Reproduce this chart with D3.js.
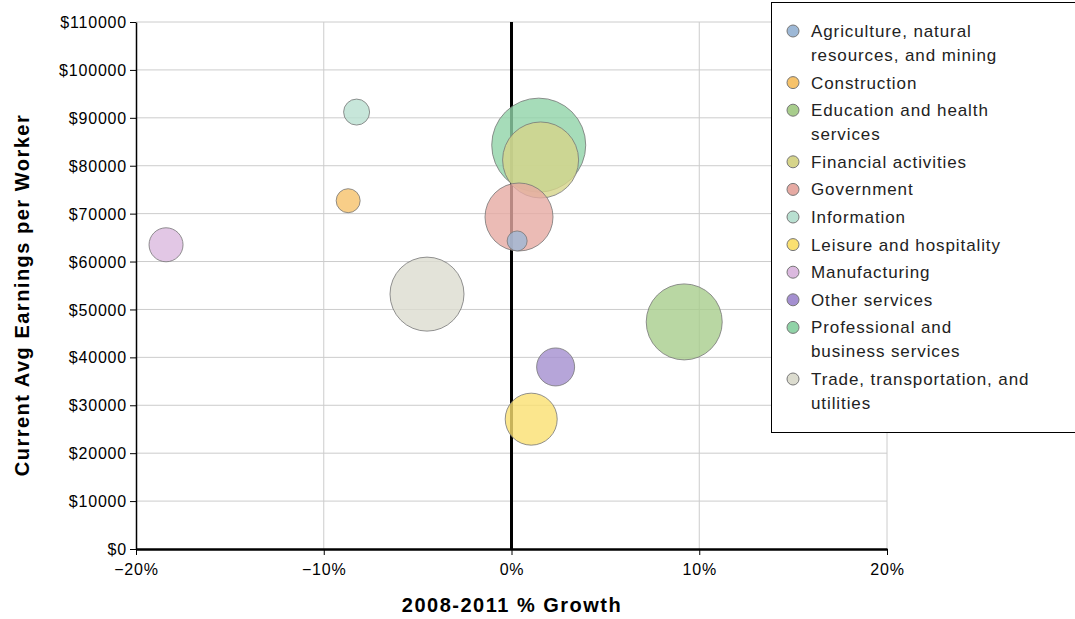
<!DOCTYPE html>
<html><head><meta charset="utf-8">
<script src="https://cdn.jsdelivr.net/npm/d3@7"></script>
<style>body{margin:0;background:#fff}</style>
</head><body>
<svg id="c" width="1075" height="619"></svg>
<script>
// industry data
var sectors = ["Agriculture, natural resources, and mining","Construction","Education and health services","Financial activities","Government","Information","Leisure and hospitality","Manufacturing","Other services","Professional and business services","Trade, transportation, and utilities"];
var growth = [0.3, -8.7, 9.2, 1.55, 0.4, -8.25, 1.05, -18.4, 2.35, 1.45, -4.5];
var earnings = [64300, 72700, 47400, 81200, 69300, 91200, 27100, 63500, 38000, 84300, 53200];
var employment = [100, 144, 1444, 1444, 1156, 169, 676, 289, 361, 2209, 1369];
var colors = ["#9db8d6","#f6c26a","#a8cd8c","#d6d48a","#e6aaa3","#b9e0d1","#fae071","#dbb9df","#a48fd0","#90d3a7","#dcdccf"];
var legendLines = [["Agriculture, natural","resources, and mining"],["Construction"],["Education and health","services"],["Financial activities"],["Government"],["Information"],["Leisure and hospitality"],["Manufacturing"],["Other services"],["Professional and","business services"],["Trade, transportation, and","utilities"]];

var svg = d3.select("#c");
var font = "Liberation Sans, Arial, sans-serif";
var x = d3.scaleLinear().domain([-20,20]).range([136,887]);
var y = d3.scaleLinear().domain([0,110000]).range([549,22]);
var r = d3.scaleSqrt().domain([0,2209]).range([0,47]);

//grid
svg.append("g").selectAll("line").data(d3.range(10000,110001,10000)).join("line")
  .attr("x1",136).attr("x2",887).attr("y1",y).attr("y2",y).attr("stroke","#cccccc");
svg.append("g").selectAll("line").data([-10,10,20]).join("line")
  .attr("x1",x).attr("x2",x).attr("y1",22).attr("y2",549).attr("stroke","#cccccc");

//axes
var ya = svg.append("g").attr("transform","translate(136,0)")
  .call(d3.axisLeft(y).tickValues(d3.range(0,110001,10000)).tickFormat(function(d){return "$"+d;}).tickSizeOuter(0));
var xa = svg.append("g").attr("transform","translate(0,549)")
  .call(d3.axisBottom(x).tickValues([-20,-10,0,10,20]).tickFormat(function(d){return (d<0?"\u2212"+(-d):d)+"%";}).tickSizeOuter(0).tickPadding(9));
[ya,xa].forEach(function(a){
  a.selectAll("text").attr("font-family",font).attr("font-size",16).attr("letter-spacing",0.8).attr("fill","#000");
  a.selectAll("line").attr("stroke","#000");
});
ya.selectAll("text").attr("dy","0.35em");
ya.select(".domain").attr("stroke","#000").attr("stroke-width",1.5);
xa.select(".domain").attr("stroke","#000").attr("stroke-width",2.5);
svg.append("line").attr("x1",x(0)).attr("x2",x(0)).attr("y1",22).attr("y2",549)
  .attr("stroke","#000").attr("stroke-width",3);

//bubbles
var idx = d3.range(sectors.length).sort(function(a,b){return employment[b]-employment[a];});
svg.append("g").selectAll("circle").data(idx).join("circle")
  .attr("cx",function(i){return x(growth[i]);})
  .attr("cy",function(i){return y(earnings[i]);})
  .attr("r",function(i){return r(employment[i]);})
  .attr("fill",function(i){return colors[i];}).attr("fill-opacity",0.8)
  .attr("stroke","#777").attr("stroke-opacity",0.8);

//titles
svg.append("text").attr("x",512).attr("y",612).attr("text-anchor","middle")
  .attr("font-family",font).attr("font-size",20).attr("letter-spacing",1.5).attr("font-weight","bold").text("2008-2011 % Growth");
svg.append("text").attr("transform","translate(29,295) rotate(-90)").attr("text-anchor","middle")
  .attr("font-family",font).attr("font-size",20).attr("letter-spacing",1.5).attr("font-weight","bold").text("Current Avg Earnings per Worker");

//legend
var lg = svg.append("g");
lg.append("rect").attr("x",771.5).attr("y",2.5).attr("width",310).attr("height",430)
  .attr("fill","#fff").attr("stroke","#000");
var yy = 31;
legendLines.forEach(function(lines,i){
  lg.append("circle").attr("cx",793).attr("cy",yy).attr("r",6)
    .attr("fill",colors[i]).attr("stroke","#777");
  lines.forEach(function(t,j){
    lg.append("text").attr("x",811).attr("y",yy+6+j*24).attr("font-family",font)
      .attr("font-size",17).attr("letter-spacing",0.9).attr("fill","#222").text(t);
  });
  yy += 27.6 + (lines.length-1)*24;
});
</script>
</body></html>
